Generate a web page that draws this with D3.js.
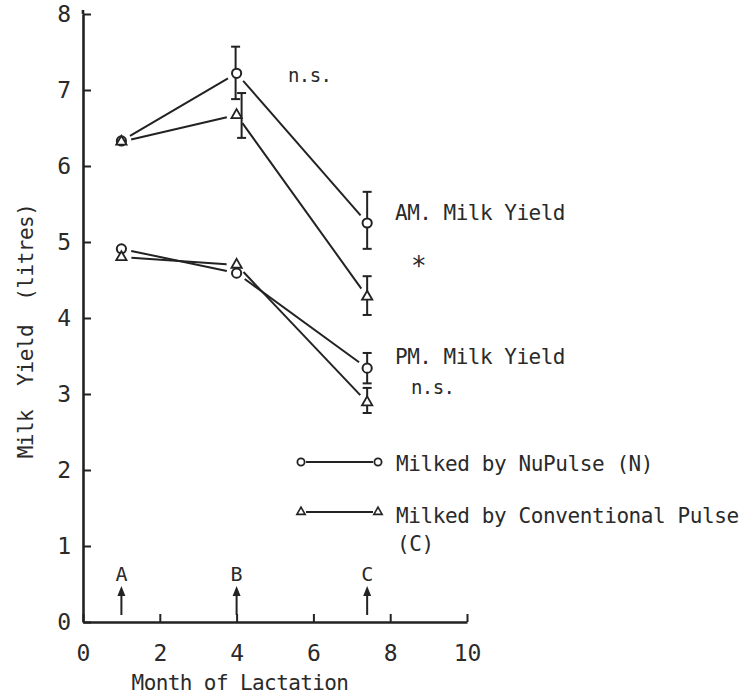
<!DOCTYPE html>
<html>
<head>
<meta charset="utf-8">
<script src="https://cdn.jsdelivr.net/npm/d3@7"></script>
<style>
  body { margin: 0; background: #fff; }
  text { font-family: "DejaVu Sans Mono", monospace; fill: #2a2a2a; }
</style>
</head>
<body>
<div id="chart"></div>
<script>
// data
const months = [1, 4, 7.4];
const stageLabels = ["A", "B", "C"];
const amNuPulse = [6.33, 7.22, 5.25];
const amConventional = [6.32, 6.67, 4.28];
const pmNuPulse = [4.91, 4.59, 3.34];
const pmConventional = [4.8, 4.7, 2.89];
// error bars [low, high], null where none drawn
const amNuPulseErr = [null, [6.88, 7.57], [4.91, 5.66]];
const amConventionalErr = [null, [6.37, 6.96], [4.04, 4.55]];
const pmNuPulseErr = [null, null, [3.14, 3.54]];
const pmConventionalErr = [null, null, [2.75, 3.08]];
const xTicks = [0, 2, 4, 6, 8, 10];
const yTicks = [0, 1, 2, 3, 4, 5, 6, 7, 8];

const width = 741, height = 699;
const ink = "#222";

const svg = d3.select("#chart")
  .append("svg")
  .attr("width", width)
  .attr("height", height);

const x = d3.scaleLinear().domain([0, 10]).range([83, 467]);
const y = d3.scaleLinear().domain([0, 8]).range([622, 14]);

//////////// axes ////////////
const yAxis = svg.append("g")
  .attr("transform", `translate(${x(0)},0)`)
  .call(d3.axisLeft(y).tickValues(yTicks).tickSize(-8).tickSizeOuter(0).tickPadding(12));

const xAxis = svg.append("g")
  .attr("transform", `translate(0,${y(0)})`)
  .call(d3.axisBottom(x).tickValues(xTicks).tickSize(-8).tickSizeOuter(0).tickPadding(23));

[yAxis, xAxis].forEach((g) => {
  g.attr("font-size", 23).attr("font-family", null);
  g.select(".domain").attr("stroke", ink).attr("stroke-width", 2.6);
  g.selectAll(".tick line").attr("stroke", ink).attr("stroke-width", 2);
  g.selectAll(".tick text").attr("fill", "#2a2a2a");
});

// y axis sticks up a little past 8
svg.append("line")
  .attr("x1", x(0)).attr("x2", x(0))
  .attr("y1", y(8)).attr("y2", y(8) - 4)
  .attr("stroke", ink).attr("stroke-width", 2.6);

//////////// axis titles ////////////
svg.append("text")
  .attr("transform", `translate(33,331) rotate(-90)`)
  .attr("text-anchor", "middle")
  .attr("font-size", 21)
  .attr("letter-spacing", -0.5)
  .attr("word-spacing", 12)
  .text("Milk Yield (litres)");

svg.append("text")
  .attr("x", 240).attr("y", 690)
  .attr("text-anchor", "middle")
  .attr("font-size", 21)
  .attr("letter-spacing", -0.6)
  .text("Month of Lactation");

//////////// series ////////////
// barDx nudges the conventional bar at month 4 so the two bars sit side by side
const series = [
  { values: amNuPulse, err: amNuPulseErr, symbol: "circle", barDx: [0, -1, 0] },
  { values: amConventional, err: amConventionalErr, symbol: "triangle", barDx: [0, 5, 0] },
  { values: pmNuPulse, err: pmNuPulseErr, symbol: "circle", barDx: [0, 0, 0] },
  { values: pmConventional, err: pmConventionalErr, symbol: "triangle", barDx: [0, 0, 0] }
];

// lines stop short of the markers, as on the original plot
const gap = 10;
function shortSegment(a, b) {
  const dx = b[0] - a[0], dy = b[1] - a[1];
  const len = Math.hypot(dx, dy);
  const ux = dx / len, uy = dy / len;
  return [[a[0] + ux * gap, a[1] + uy * gap], [b[0] - ux * gap, b[1] - uy * gap]];
}

const plot = svg.append("g");

series.forEach((s) => {
  const pts = s.values.map((v, i) => [x(months[i]), y(v)]);
  d3.pairs(pts).forEach(([a, b]) => {
    const seg = shortSegment(a, b);
    plot.append("line")
      .attr("x1", seg[0][0]).attr("y1", seg[0][1])
      .attr("x2", seg[1][0]).attr("y2", seg[1][1])
      .attr("stroke", ink)
      .attr("stroke-width", 2);
  });

  // error bars
  s.err.forEach((e, i) => {
    if (!e) return;
    const cx = x(months[i]) + s.barDx[i];
    const bar = plot.append("g").attr("stroke", ink).attr("stroke-width", 2);
    bar.append("line").attr("x1", cx).attr("x2", cx).attr("y1", y(e[0])).attr("y2", y(e[1]));
    bar.append("line").attr("x1", cx - 4.5).attr("x2", cx + 4.5).attr("y1", y(e[0])).attr("y2", y(e[0]));
    bar.append("line").attr("x1", cx - 4.5).attr("x2", cx + 4.5).attr("y1", y(e[1])).attr("y2", y(e[1]));
  });
});

// markers on top
const triangle = d3.symbol().type(d3.symbolTriangle).size(46);
series.forEach((s) => {
  s.values.forEach((v, i) => {
    const cx = x(months[i]), cy = y(v);
    if (s.symbol === "circle") {
      plot.append("circle")
        .attr("cx", cx).attr("cy", cy).attr("r", 4.6)
        .attr("fill", "#fff").attr("stroke", ink).attr("stroke-width", 2);
    } else {
      plot.append("path")
        .attr("d", triangle())
        .attr("transform", `translate(${cx},${cy})`)
        .attr("fill", "#fff").attr("stroke", ink).attr("stroke-width", 1.8);
    }
  });
});

//////////// stage arrows A B C ////////////
const stages = svg.append("g");
months.forEach((m, i) => {
  const cx = x(m);
  stages.append("text")
    .attr("x", cx).attr("y", 581)
    .attr("text-anchor", "middle")
    .attr("font-size", 20)
    .text(stageLabels[i]);
  stages.append("line")
    .attr("x1", cx).attr("x2", cx)
    .attr("y1", 592).attr("y2", 615)
    .attr("stroke", ink).attr("stroke-width", 2);
  stages.append("path")
    .attr("d", `M${cx},586 L${cx - 4},596 L${cx + 4},596 Z`)
    .attr("fill", ink);
});

//////////// annotations ////////////
const notes = [
  { text: "n.s.", x: 288, y: 82, size: 19 },
  { text: "AM. Milk Yield", x: 395, y: 220, size: 21 },
  { text: "PM. Milk Yield", x: 395, y: 364, size: 21 },
  { text: "n.s.", x: 411, y: 394, size: 19 },
  { text: "*", x: 411, y: 275, size: 26 }
];
svg.append("g").selectAll("text")
  .data(notes)
  .enter()
  .append("text")
  .attr("x", (d) => d.x)
  .attr("y", (d) => d.y)
  .attr("font-size", (d) => d.size)
  .attr("letter-spacing", (d) => (d.size > 20 ? -0.5 : -0.6))
  .text((d) => d.text);

//////////// legend ////////////
const legend = svg.append("g");
const legendRows = [
  { symbol: "circle", label: "Milked by NuPulse (N)", y: 462, textY: 471 },
  { symbol: "triangle", label: "Milked by Conventional Pulse", y: 512, textY: 523 }
];
const smallTri = d3.symbol().type(d3.symbolTriangle).size(30);
legendRows.forEach((r) => {
  legend.append("line")
    .attr("x1", 306).attr("x2", 373)
    .attr("y1", r.y).attr("y2", r.y)
    .attr("stroke", ink).attr("stroke-width", 2);
  [301, 378].forEach((lx) => {
    if (r.symbol === "circle") {
      legend.append("circle")
        .attr("cx", lx).attr("cy", r.y).attr("r", 3.6)
        .attr("fill", "#fff").attr("stroke", ink).attr("stroke-width", 1.8);
    } else {
      legend.append("path")
        .attr("d", smallTri())
        .attr("transform", `translate(${lx},${r.y})`)
        .attr("fill", "#fff").attr("stroke", ink).attr("stroke-width", 1.6);
    }
  });
  legend.append("text")
    .attr("x", 396).attr("y", r.textY)
    .attr("font-size", 21)
    .attr("letter-spacing", -0.4)
    .text(r.label);
});
legend.append("text")
  .attr("x", 397).attr("y", 551)
  .attr("font-size", 21)
  .attr("letter-spacing", -0.4)
  .text("(C)");
</script>
</body>
</html>
